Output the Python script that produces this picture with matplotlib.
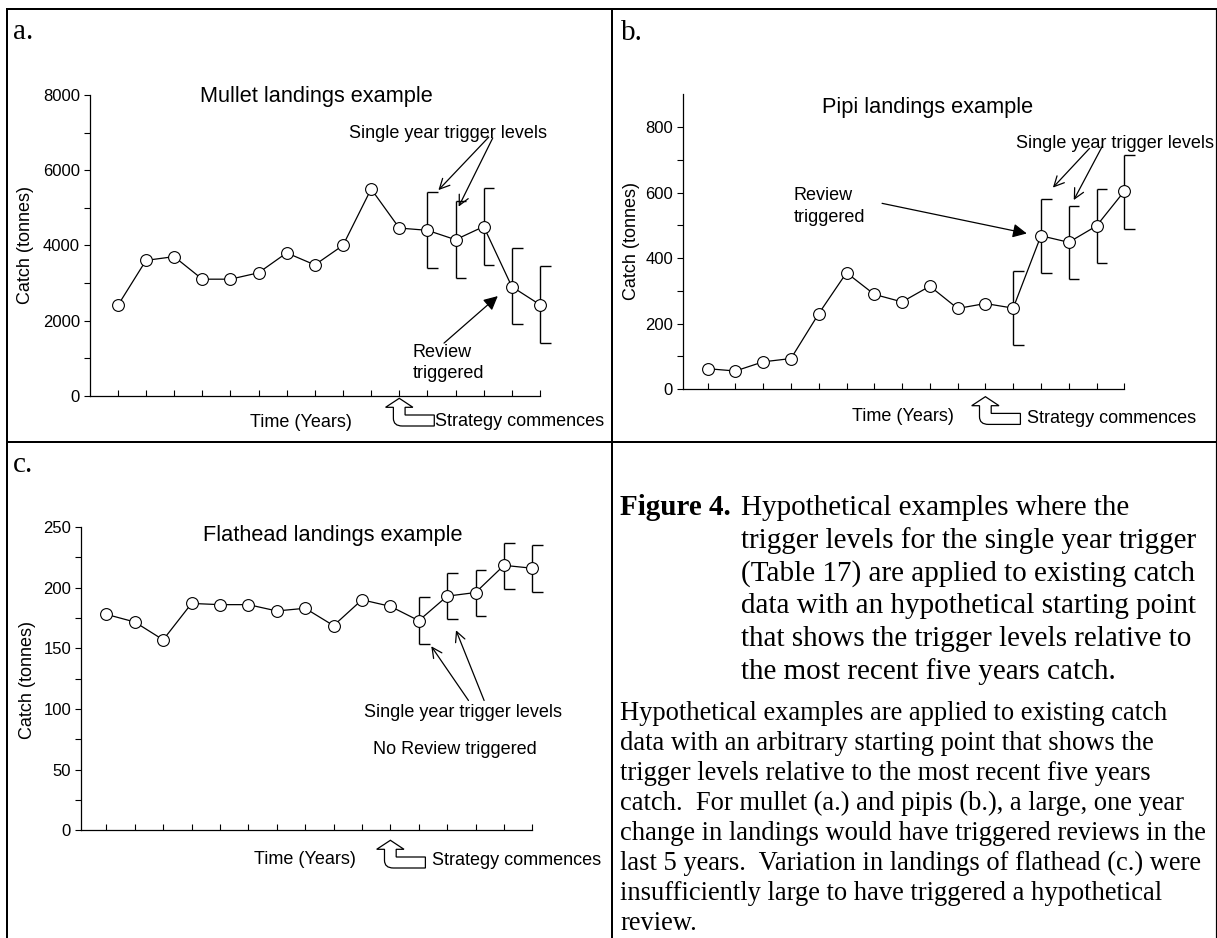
import matplotlib
matplotlib.use("Agg")
import matplotlib.pyplot as plt
import matplotlib.transforms as mtransforms
from matplotlib.lines import Line2D
from matplotlib.patches import PathPatch
from matplotlib.path import Path
from matplotlib.ticker import MultipleLocator, FixedLocator

# Catch series (tonnes), one value per year; trigger bands for the last five years
mullet_catch = [2400, 3600, 3700, 3100, 3100, 3270, 3800, 3480, 4000, 5500,
                4460, 4400, 4150, 4500, 2900, 2420]
mullet_upper = [5430, 5170, 5520, 3930, 3440]
mullet_lower = [3390, 3130, 3480, 1900, 1400]

pipi_catch = [62, 55, 83, 93, 230, 355, 289, 266, 314, 246,
              261, 247, 468, 448, 498, 604]
pipi_upper = [361, 581, 560, 611, 716]
pipi_lower = [134, 354, 335, 384, 490]

flathead_catch = [178, 171.7, 157, 187, 186, 186, 180.8, 183, 168.7, 190,
                  184.6, 172.8, 193, 196, 218.4, 216]
flathead_upper = [192.3, 212, 214.8, 237, 235]
flathead_lower = [153.6, 174, 177, 199, 196.7]

strategy_year = 11

caption_lines = [
    "Hypothetical examples where the",
    "trigger levels for the single year trigger",
    "(Table 17) are applied to existing catch",
    "data with an hypothetical starting point",
    "that shows the trigger levels relative to",
    "the most recent five years catch.",
]
body_lines = [
    "Hypothetical examples are applied to existing catch",
    "data with an arbitrary starting point that shows the",
    "trigger levels relative to the most recent five years",
    "catch.  For mullet (a.) and pipis (b.), a large, one year",
    "change in landings would have triggered reviews in the",
    "last 5 years.  Variation in landings of flathead (c.) were",
    "insufficiently large to have triggered a hypothetical",
    "review.",
]

plt.rcParams["font.family"] = ["Liberation Sans", "DejaVu Sans"]

W, H = 1217, 938
fig = plt.figure(figsize=(W / 100, H / 100), dpi=100)


def fx(px):
    return px / W


def fy(py):
    return 1 - py / H


def label(px, py, s, size=13, **kw):
    fig.text(fx(px), fy(py), s, fontsize=size, va="baseline", **kw)


def serif(px, py, s, size=21, **kw):
    fig.text(fx(px), fy(py), s, fontsize=size, va="baseline",
             family=["Liberation Serif", "DejaVu Serif"], **kw)


def panel(box, catch, upper, lower, ylim, major, minor, x0):
    left, right, top, bottom = box
    ax = fig.add_axes([fx(left), fy(bottom), (right - left) / W, (bottom - top) / H])
    ax.patch.set_alpha(0)
    years = list(range(1, len(catch) + 1))
    ax.plot(years, catch, color="black", lw=0.9, marker="o", ms=8.5,
            mfc="white", mec="black", mew=0.8, zorder=3, clip_on=False)
    # trigger brackets: vertical span with short caps to the right
    ty = years[-len(upper):]
    cap = [x + 0.38 for x in ty]
    ax.vlines(ty, lower, upper, color="black", lw=1.0, zorder=2, clip_on=False)
    ax.hlines(upper, ty, cap, color="black", lw=1.0, zorder=2, clip_on=False)
    ax.hlines(lower, ty, cap, color="black", lw=1.0, zorder=2, clip_on=False)
    ax.set_xlim(x0, 16)
    ax.set_ylim(*ylim)
    for s in ["top", "right"]:
        ax.spines[s].set_visible(False)
    for s in ["left", "bottom"]:
        ax.spines[s].set_linewidth(0.9)
    ax.set_xticks(years)
    ax.set_xticklabels([])
    ax.tick_params(axis="x", direction="in", length=4, width=0.8)
    ax.yaxis.set_major_locator(MultipleLocator(major))
    ax.yaxis.set_minor_locator(FixedLocator(minor))
    ax.tick_params(axis="y", which="both", direction="out", length=4,
                   width=0.8, labelsize=12, pad=3)
    return ax


def strategy_arrow(ax, drop):
    # hollow bent arrow pointing up at the first year of the strategy
    d = drop
    verts = [(0, d), (13.6, d + 9), (5.8, d + 9), (5.8, d + 16.7), (35, d + 16.7),
             (35, d + 27.7), (3, d + 27.7), (-5.9, d + 27.7), (-5.9, d + 20),
             (-5.9, d + 9), (-13.7, d + 9), (0, d)]
    codes = [Path.MOVETO] + [Path.LINETO] * 6 + [Path.CURVE3, Path.CURVE3] + \
            [Path.LINETO, Path.LINETO, Path.CLOSEPOLY]
    k = fig.dpi / 100
    trans = mtransforms.Affine2D().scale(k, -k) + \
        mtransforms.ScaledTranslation(strategy_year, 0, ax.transData)
    ax.add_patch(PathPatch(Path(verts, codes), facecolor="white", edgecolor="black",
                           lw=0.9, transform=trans, clip_on=False, zorder=4))


def pointer(ax, tail, head, filled=False):
    if filled:
        style = "-|>,head_length=0.6,head_width=0.3"
        ms = 14
    else:
        style = "->,head_length=0.6,head_width=0.3"
        ms = 12
    ax.annotate("", xy=head, xytext=tail, annotation_clip=False,
                arrowprops=dict(arrowstyle=style, color="black", lw=0.9,
                                mutation_scale=ms, shrinkA=0, shrinkB=0))


# a. mullet
ax_a = panel((89.7, 540, 95, 395.7), mullet_catch, mullet_upper, mullet_lower,
             (0, 8000), 2000, [1000, 3000, 5000, 7000], 0)
pointer(ax_a, (14.18, 6880), (12.39, 5470))
pointer(ax_a, (14.32, 6855), (13.11, 5030))
pointer(ax_a, (12.59, 1400), (14.50, 2650), filled=True)
strategy_arrow(ax_a, 2.6)
serif(12.5, 39, "a.")
label(316.6, 101.7, "Mullet landings example", size=15.7, ha="center")
label(349, 137.5, "Single year trigger levels")
label(412.5, 356.5, "Review")
label(412.5, 377.5, "triggered")
label(300.8, 427, "Time (Years)", ha="center")
label(434.7, 426, "Strategy commences")
fig.text(fx(25.3), fy(244.6), "Catch (tonnes)", fontsize=13, rotation=90,
         ha="center", va="center")

# b. pipi
ax_b = panel((682.6, 1124.3, 94.3, 389), pipi_catch, pipi_upper, pipi_lower,
             (0, 900), 200, [100, 300, 500, 700], 0.1)
pointer(ax_b, (14.75, 735), (13.43, 615))
pointer(ax_b, (15.2, 740), (14.18, 577))
pointer(ax_b, (7.28, 567), (12.49, 475), filled=True)
strategy_arrow(ax_b, 7.7)
serif(620.5, 40, "b.")
label(928, 113, "Pipi landings example", size=15.7, ha="center")
label(1016, 148, "Single year trigger levels")
label(793.3, 200, "Review")
label(793.3, 221.7, "triggered")
label(903, 420.7, "Time (Years)", ha="center")
label(1026.7, 423, "Strategy commences")
fig.text(fx(631.3), fy(241), "Catch (tonnes)", fontsize=13, rotation=90,
         ha="center", va="center")

# c. flathead
ax_c = panel((80.8, 532.4, 527, 830.3), flathead_catch, flathead_upper, flathead_lower,
             (0, 250), 50, [25, 75, 125, 175, 225], 0.1)
pointer(ax_c, (13.75, 107), (12.44, 151.7))
pointer(ax_c, (14.3, 107), (13.31, 164.9))
strategy_arrow(ax_c, 10)
serif(13, 472, "c.")
label(332.8, 541, "Flathead landings example", size=15.7, ha="center")
label(462.5, 717, "Single year trigger levels", ha="center")
label(455, 753.7, "No Review triggered", ha="center")
label(305.4, 863.7, "Time (Years)", ha="center")
label(432.5, 865.3, "Strategy commences")
fig.text(fx(27.3), fy(679.5), "Catch (tonnes)", fontsize=13, rotation=90,
         ha="center", va="center")

# caption cell
serif(620.5, 515.3, "Figure 4.", weight="bold")
for i, line in enumerate(caption_lines):
    serif(741, 515.3 + i * 32.7, line)
for i, line in enumerate(body_lines):
    serif(620.5, 720 + i * 30.0, line, size=19.1)

# table borders around the four cells
rules = [
    ((7, 7), (9, H), 2.0),
    ((7, 1216), (9, 9), 2.0),
    ((1215.5, 1215.5), (9, H), 1.2),
    ((612.3, 612.3), (9, H), 2.0),
    ((7, 1216), (442.3, 442.3), 2.0),
]
for xs, ys, lw in rules:
    fig.add_artist(Line2D([fx(x) for x in xs], [fy(y) for y in ys],
                          transform=fig.transFigure, color="black", lw=lw * 0.72))

fig.savefig("out.png", dpi=100)
